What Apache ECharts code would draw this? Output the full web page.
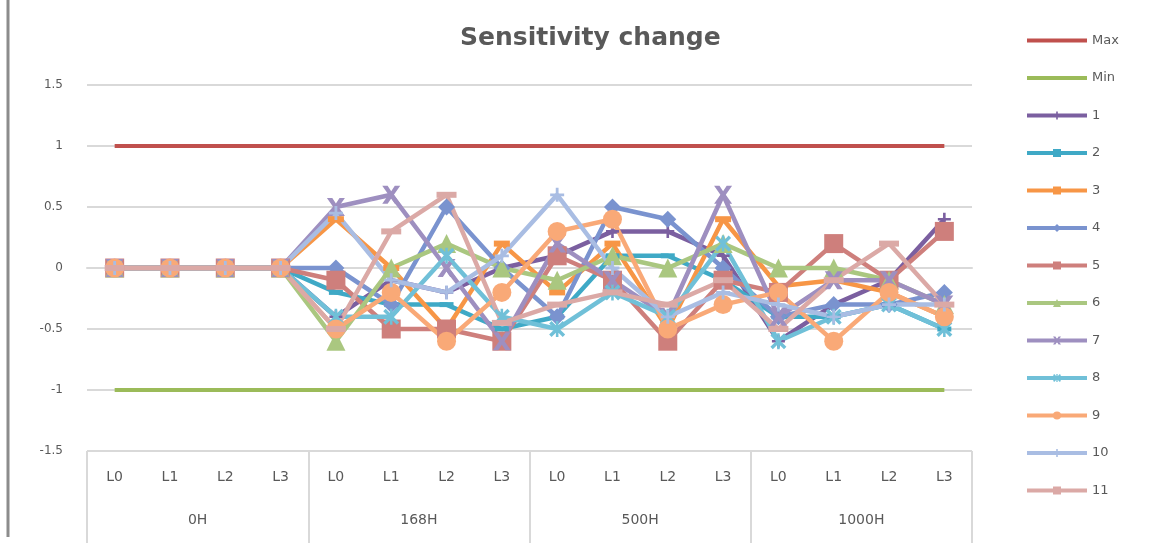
<!DOCTYPE html>
<html>
<head>
<meta charset="utf-8">
<script src="https://cdn.jsdelivr.net/npm/echarts@6/dist/echarts.min.js"></script>
<style>
html,body{margin:0;padding:0;background:#fff;}
#chart{width:1158px;height:543px;}
</style>
</head>
<body>
<div id="chart"></div>
<script>
const categories = ['L0','L1','L2','L3','L0','L1','L2','L3','L0','L1','L2','L3','L0','L1','L2','L3'];
const groups = ['0H','168H','500H','1000H'];
const yTicks = [-1.5, 1.5, 0.5];

const maxLine = [1,1,1,1,1,1,1,1,1,1,1,1,1,1,1,1];
const minLine = [-1,-1,-1,-1,-1,-1,-1,-1,-1,-1,-1,-1,-1,-1,-1,-1];
const s1  = [0,0,0,0, -0.4,-0.1,-0.2,0,   0.1,0.3,0.3,0.1,    -0.6,-0.3,-0.1,0.4];
const s2  = [0,0,0,0, -0.2,-0.3,-0.3,-0.5, -0.4,0.1,0.1,-0.1,  -0.4,-0.4,-0.3,-0.5];
const s3  = [0,0,0,0, 0.4,0,-0.5,0.2,     -0.2,0.2,-0.5,0.4,   -0.15,-0.1,-0.2,-0.4];
const s4  = [0,0,0,0, 0,-0.3,0.5,0,       -0.4,0.5,0.4,0,      -0.4,-0.3,-0.3,-0.2];
const s5  = [0,0,0,0, -0.1,-0.5,-0.5,-0.6, 0.1,-0.1,-0.6,-0.1, -0.2,0.2,-0.1,0.3];
const s6  = [0,0,0,0, -0.6,0,0.2,0,       -0.1,0.1,0,0.2,      0,0,-0.1,-0.3];
const s7  = [0,0,0,0, 0.5,0.6,0,-0.6,     0.2,-0.1,-0.4,0.6,   -0.4,-0.1,-0.1,-0.3];
const s8  = [0,0,0,0, -0.4,-0.4,0.1,-0.4, -0.5,-0.2,-0.4,0.2,  -0.6,-0.4,-0.3,-0.5];
const s9  = [0,0,0,0, -0.5,-0.2,-0.6,-0.2, 0.3,0.4,-0.5,-0.3,  -0.2,-0.6,-0.2,-0.4];
const s10 = [0,0,0,0, 0.45,-0.1,-0.2,0.1, 0.6,0,-0.4,-0.2,    -0.3,-0.4,-0.3,-0.3];
const s11 = [0,0,0,0, -0.5,0.3,0.6,-0.45, -0.3,-0.2,-0.3,-0.1, -0.5,-0.1,0.2,-0.3];
const seriesNames = ['Max','Min','1','2','3','4','5','6','7','8','9','10','11'];

const PLUS = 'path://M4,0 L6,0 L6,4 L10,4 L10,6 L6,6 L6,10 L4,10 L4,6 L0,6 L0,4 L4,4 Z';
const XMARK = 'path://M0,0 L3,0 L5,3 L7,0 L10,0 L6.5,5 L10,10 L7,10 L5,7 L3,10 L0,10 L3.5,5 Z';
const STAR = 'path://M0,1.5 L1.5,0 L4.2,2.7 L4.2,0 L5.8,0 L5.8,2.7 L8.5,0 L10,1.5 L6.5,5 L10,8.5 L8.5,10 L5.8,7.3 L5.8,10 L4.2,10 L4.2,7.3 L1.5,10 L0,8.5 L3.5,5 Z';

const chart = echarts.init(document.getElementById('chart'), null, {renderer:'canvas'});
const font = 'DejaVu Sans';
const txt = '#595959';

function mk(name, data, color, symbol, size, width){
  return {
    name: name, type: 'line', data: data,
    symbol: symbol, symbolSize: size, showSymbol: symbol !== 'none',
    lineStyle: {color: color, width: width || 4.5},
    itemStyle: {color: color},
    emphasis: {disabled: true},
    z: 2
  };
}

const legendData = seriesNames.map(function(n){
  if (n === 'Max' || n === 'Min') return {name: n, itemStyle: {opacity: 0}};
  return {name: n};
});

const option = {
  animation: false,
  backgroundColor: '#fff',
  title: {
    text: 'Sensitivity change',
    left: 455, top: 21,
    textStyle: {fontFamily: font, fontSize: 25, fontWeight: 'bold', color: txt}
  },
  legend: {
    data: legendData,
    orient: 'vertical', left: 1020, top: 29,
    itemWidth: 60, itemHeight: 10, itemGap: 24.5,
    lineStyle: {width: 4},
    textStyle: {fontFamily: font, fontSize: 13, color: txt},
    selectedMode: false
  },
  grid: {left: 87, right: 186, top: 85, bottom: 92, containLabel: false},
  xAxis: [
    {
      type: 'category', data: categories, boundaryGap: true, position: 'bottom',
      axisLine: {show: true, lineStyle: {color: '#D9D9D9', width: 2}},
      axisTick: {show: false},
      axisLabel: {interval: 0, margin: 19, fontFamily: font, fontSize: 14, color: txt},
      splitLine: {show: false}
    },
    {
      type: 'category', data: groups, boundaryGap: true, position: 'bottom',
      axisLine: {show: false},
      axisTick: {show: true, interval: 0, length: 92, lineStyle: {color: '#D9D9D9', width: 2}},
      axisLabel: {interval: 0, margin: 62, fontFamily: font, fontSize: 14, color: txt},
      splitLine: {show: false}
    }
  ],
  yAxis: {
    type: 'value', min: yTicks[0], max: yTicks[1], interval: yTicks[2],
    axisLine: {show: false}, axisTick: {show: false},
    axisLabel: {margin: 24, fontFamily: font, fontSize: 12, color: txt},
    splitLine: {lineStyle: {color: '#D9D9D9', width: 2}}
  },
  graphic: [
    {type: 'line', shape: {x1: 8, y1: 0, x2: 8, y2: 537}, style: {stroke: '#8C8C8C', lineWidth: 3}}
  ],
  series: [
    mk('Max', maxLine, '#C0504D', 'none', 0, 4),
    mk('Min', minLine, '#9BBB59', 'none', 0, 4),
    mk('1', s1, '#7B5FA0', PLUS, 13),
    mk('2', s2, '#3FA9C6', 'rect', [14,5]),
    mk('3', s3, '#F79646', 'rect', [16,6]),
    mk('4', s4, '#7A93CF', 'diamond', 17),
    mk('5', s5, '#CE7F7C', 'rect', 19),
    mk('6', s6, '#AAC780', 'triangle', 19),
    mk('7', s7, '#9E8FC0', XMARK, 18),
    mk('8', s8, '#70C0D8', STAR, 16),
    mk('9', s9, '#F9A977', 'circle', 19),
    mk('10', s10, '#A9BDE3', PLUS, 14),
    mk('11', s11, '#DBA9A6', 'rect', [20,6])
  ]
};
chart.setOption(option);
</script>
</body>
</html>
